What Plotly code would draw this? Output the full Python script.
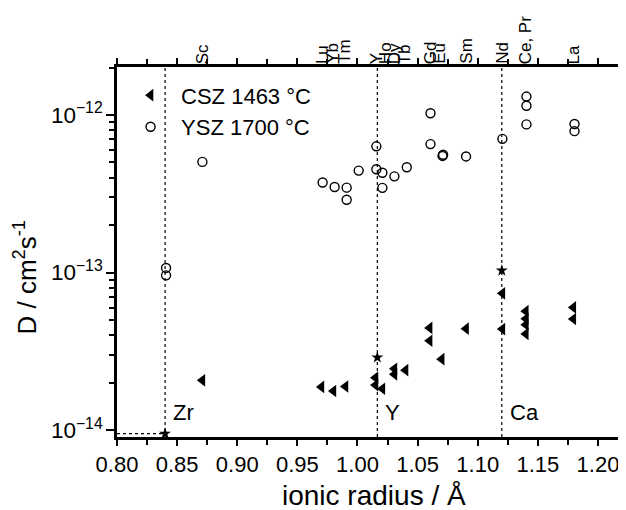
import plotly.graph_objects as go

# ---------------- data ----------------
ysz_x = [0.8408, 0.8408, 0.871, 0.971, 0.981, 0.991, 0.991, 1.001, 1.0157, 1.0157,
         1.0207, 1.0207, 1.0307, 1.041, 1.0607, 1.0607, 1.0707, 1.0712, 1.0903,
         1.1205, 1.1405, 1.1405, 1.1405, 1.1805, 1.1805]
ysz_d = [1.07e-13, 9.6e-14, 5.04e-13, 3.73e-13, 3.49e-13, 3.46e-13, 2.9e-13, 4.44e-13,
         6.33e-13, 4.53e-13, 4.3e-13, 3.45e-13, 4.08e-13, 4.66e-13, 1.026e-12, 6.54e-13,
         5.5e-13, 5.6e-13, 5.46e-13, 7.06e-13, 1.31e-12, 1.146e-12, 8.72e-13, 8.77e-13, 7.9e-13]

csz_x = [0.871, 0.970, 0.980, 0.990, 1.015, 1.015, 1.0207, 1.0307, 1.0307, 1.040,
         1.060, 1.060, 1.070, 1.0903, 1.1205, 1.1205, 1.140, 1.140, 1.140, 1.140,
         1.1795, 1.1795]
csz_d = [2.07e-14, 1.88e-14, 1.77e-14, 1.89e-14, 2.15e-14, 1.93e-14, 1.83e-14, 2.45e-14,
         2.26e-14, 2.4e-14, 4.45e-14, 3.69e-14, 2.82e-14, 4.4e-14, 7.38e-14, 4.38e-14,
         5.69e-14, 5.09e-14, 4.67e-14, 4.08e-14, 6.01e-14, 5.07e-14]

host_names = ["Zr", "Y", "Ca"]
host_radius = [0.84, 1.0165, 1.12]
host_d = [9.5e-15, 2.89e-14, 1.03e-13]

elem_names = ["Sc", "Lu", "Yb", "Tm", "Y", "Ho", "Dy", "Tb", "Gd", "Eu", "Sm", "Nd", "Ce, Pr", "La"]
elem_radius = [0.871, 0.971, 0.979, 0.989, 1.016, 1.023, 1.031, 1.039, 1.061, 1.068,
               1.090, 1.120, 1.140, 1.180]

x_ticks = [0.80, 0.85, 0.90, 0.95, 1.00, 1.05, 1.10, 1.15, 1.20]
x_minor = [0.825, 0.875, 0.925, 0.975, 1.025, 1.075, 1.125, 1.175]
x_range = [0.80, 1.2233]
y_range_log = [-14.044, -11.695]

FONT = "Liberation Sans, Arial, sans-serif"

fig = go.Figure()

fig.add_trace(go.Scatter(
    x=csz_x, y=csz_d, mode="markers", name="CSZ 1463 °C",
    marker=dict(symbol="triangle-left", size=11, color="black", line=dict(width=0))))
fig.add_trace(go.Scatter(
    x=ysz_x, y=ysz_d, mode="markers", name="YSZ 1700 °C",
    marker=dict(symbol="circle-open", size=9, color="black", line=dict(width=1.4))))
fig.add_trace(go.Scatter(
    x=host_radius, y=host_d, mode="markers", showlegend=False,
    marker=dict(symbol="star", size=9, color="black", line=dict(width=0))))

shapes = []
for xr in host_radius:
    shapes.append(dict(type="line", xref="x", yref="paper", x0=xr, x1=xr, y0=0, y1=1,
                       line=dict(color="black", width=1.2, dash="dot")))
# dotted guide to the Zr star
shapes.append(dict(type="line", xref="x", yref="y", x0=x_range[0], x1=host_radius[0],
                   y0=host_d[0], y1=host_d[0],
                   line=dict(color="black", width=1.2, dash="dot")))

annotations = []
for name, xr in zip(host_names, host_radius):
    annotations.append(dict(x=xr, y=0.065, xref="x", yref="paper", text=name,
                            showarrow=False, xanchor="left", yanchor="middle", xshift=6,
                            font=dict(family=FONT, size=22, color="black")))
for name, xr in zip(elem_names, elem_radius):
    annotations.append(dict(x=xr, y=1, xref="x", yref="paper", text=name,
                            showarrow=False, textangle=-90, xanchor="center",
                            yanchor="bottom", yshift=1,
                            font=dict(family=FONT, size=17, color="black")))
annotations.append(dict(x=-0.18, y=0.432, xref="paper", yref="paper",
                        text="D / cm<sup>2</sup>s<sup>-1</sup>", textangle=-90,
                        showarrow=False, xanchor="center", yanchor="middle",
                        font=dict(family=FONT, size=26, color="black")))
annotations.append(dict(x=0.505, y=-0.157, xref="paper", yref="paper",
                        text="ionic radius / Å", showarrow=False,
                        xanchor="center", yanchor="middle",
                        font=dict(family=FONT, size=28, color="black")))

# the page adds an 8 px body margin, so the figure is laid out 8 px smaller
fig.update_layout(
    width=618, height=502,
    margin=dict(l=109, r=0, t=59, b=73),
    paper_bgcolor="white", plot_bgcolor="white",
    font=dict(family=FONT, color="black"),
    shapes=shapes, annotations=annotations,
    legend=dict(x=0.006, y=0.98, xanchor="left", yanchor="top",
                bgcolor="rgba(0,0,0,0)", font=dict(family=FONT, size=22, color="black"),
                itemwidth=51, tracegroupgap=0),
    xaxis=dict(range=x_range, tickvals=x_ticks, ticktext=[f"{v:.2f}" for v in x_ticks],
               automargin=False,
               showgrid=False, zeroline=False, showline=True, linecolor="black",
               linewidth=2.5, mirror="ticks", ticks="outside", ticklen=6, tickwidth=2,
               tickcolor="black", tickfont=dict(family=FONT, size=22, color="black"),
               minor=dict(tickvals=x_minor, ticks="outside", ticklen=5, tickwidth=1.5,
                          tickcolor="black")),
    yaxis=dict(type="log", range=y_range_log, dtick=1, exponentformat="power",
               automargin=False,
               showgrid=False, zeroline=False, showline=True, linecolor="black",
               linewidth=2.5, ticks="outside", ticklen=8, tickwidth=2, tickcolor="black",
               tickfont=dict(family=FONT, size=18, color="black"),
               minor=dict(ticks="outside", ticklen=5, tickwidth=1.5, tickcolor="black",
                          dtick="D1")),
)

fig.write_html("out.html")
